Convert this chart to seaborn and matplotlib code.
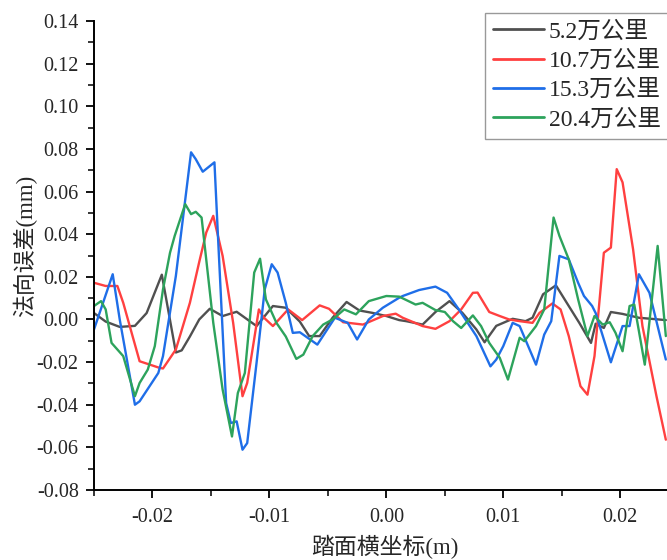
import numpy as np
import pandas as pd
import matplotlib
matplotlib.use("Agg")
import matplotlib.pyplot as plt
from matplotlib.font_manager import FontProperties
from matplotlib.ticker import MultipleLocator
import seaborn as sns

# ---------------- data ----------------
series_names = ["5.2万公里", "10.7万公里", "15.3万公里", "20.4万公里"]

x_52 = [-0.0250, -0.0240, -0.0228, -0.0215, -0.0205, -0.0192, -0.0180, -0.0175,
        -0.0168, -0.0160, -0.0151, -0.0140, -0.0128, -0.0111, -0.0097, -0.0086,
        -0.0074, -0.0066, -0.0057, -0.0046, -0.0034, -0.0023, -0.0012, 0.0000,
        0.0011, 0.0017, 0.0031, 0.0042, 0.0054, 0.0065, 0.0077, 0.0084, 0.0094,
        0.0108, 0.0119, 0.0125, 0.0134, 0.0145, 0.0156, 0.0165, 0.0175, 0.0179,
        0.0186, 0.0192, 0.0202, 0.0216, 0.0239]
y_52 = [0.0030, -0.0010, -0.0035, -0.0030, 0.0030, 0.0210, -0.0155, -0.0145,
        -0.0080, 0.0000, 0.0050, 0.0016, 0.0036, -0.0031, 0.0063, 0.0055,
        -0.0010, -0.0078, -0.0078, 0.0008, 0.0082, 0.0042, 0.0031, 0.0016,
        -0.0003, -0.0008, -0.0024, 0.0035, 0.0086, 0.0031, -0.0047, -0.0107, -0.0030,
        0.0003, -0.0008, 0.0008, 0.0118, 0.0160, 0.0063, -0.0016, -0.0110, -0.0020,
        -0.0040, 0.0035, 0.0026, 0.0008, -0.0003]

x_107 = [-0.0250, -0.0240, -0.0230, -0.0225, -0.0211, -0.0194, -0.0191, -0.0180,
         -0.0168, -0.0160, -0.0154, -0.0148, -0.0140, -0.0131, -0.0123, -0.0119,
         -0.0109, -0.0105, -0.0097, -0.0084, -0.0072, -0.0057, -0.0049, -0.0037,
         -0.0020, -0.0003, 0.0008, 0.0014, 0.0031, 0.0042, 0.0054, 0.0064, 0.0074,
         0.0078, 0.0088, 0.0097, 0.0105, 0.0114, 0.0125, 0.0131, 0.0142, 0.0149,
         0.0156, 0.0166, 0.0172, 0.0178, 0.0186, 0.0192, 0.0197, 0.0202, 0.0211,
         0.0219, 0.0231, 0.0239]
y_107 = [0.0172, 0.0157, 0.0157, 0.0078, -0.0196, -0.0227, -0.0230, -0.0141,
         0.0078, 0.0270, 0.0408, 0.0486, 0.0298, -0.0016, -0.0360, -0.0298,
         0.0047, 0.0010, -0.0031, 0.0047, -0.0003, 0.0066, 0.0050, -0.0013,
         -0.0024, 0.0016, 0.0027, 0.0008, -0.0031, -0.0044, -0.0008, 0.0047, 0.0125,
         0.0126, 0.0035, 0.0016, 0.0000, -0.0008, -0.0016, 0.0031, 0.0075, 0.0047,
         -0.0078, -0.0313, -0.0353, -0.0172, 0.0313, 0.0337, 0.0705, 0.0643, 0.0329,
         -0.0031, -0.0360, -0.0564]

x_153 = [-0.0250, -0.0234, -0.0228, -0.0215, -0.0211, -0.0195, -0.0191, -0.0180,
         -0.0167, -0.0163, -0.0157, -0.0147, -0.0144, -0.0137, -0.0133, -0.0128,
         -0.0123, -0.0119, -0.0111, -0.0104, -0.0098, -0.0093, -0.0086, -0.0080,
         -0.0074, -0.0059, -0.0044, -0.0033, -0.0025, -0.0015, -0.0003, 0.0011,
         0.0014, 0.0028, 0.0042, 0.0052, 0.0062, 0.0077, 0.0089, 0.0094, 0.0100,
         0.0108, 0.0114, 0.0128, 0.0135, 0.0141, 0.0148, 0.0156, 0.0164, 0.0169,
         0.0176, 0.0179, 0.0186, 0.0192, 0.0202, 0.0208, 0.0216, 0.0225, 0.0239]
y_153 = [-0.0047, 0.0212, 0.0000, -0.0400, -0.0384, -0.0251, -0.0172, 0.0204,
         0.0784, 0.0752, 0.0693, 0.0737, 0.0392, -0.0392, -0.0486, -0.0478,
         -0.0611, -0.0580, -0.0204, 0.0141, 0.0259, 0.0220, 0.0078, -0.0063,
         -0.0060, -0.0118, 0.0008, -0.0016, -0.0094, 0.0000, 0.0055, 0.0102,
         0.0110, 0.0138, 0.0154, 0.0125, 0.0047, -0.0078, -0.0220, -0.0188, -0.0125,
         -0.0016, -0.0031, -0.0212, -0.0071, -0.0008, 0.0298, 0.0282, 0.0172, 0.0110,
         0.0063, 0.0030, -0.0094, -0.0201, -0.0031, -0.0031, 0.0212, 0.0125, -0.0188]

x_204 = [-0.0250, -0.0244, -0.0240, -0.0235, -0.0225, -0.0215, -0.0211, -0.0204,
         -0.0198, -0.0191, -0.0185, -0.0181, -0.0172, -0.0167, -0.0163, -0.0158,
         -0.0148, -0.0140, -0.0132, -0.0127, -0.0121, -0.0113, -0.0108, -0.0103,
         -0.0094, -0.0086, -0.0077, -0.0071, -0.0063, -0.0054, -0.0046, -0.0036,
         -0.0026, -0.0015, 0.0000, 0.0011, 0.0025, 0.0031, 0.0042, 0.0050, 0.0057,
         0.0064, 0.0074, 0.0081, 0.0088, 0.0097, 0.0104, 0.0114, 0.0118, 0.0128,
         0.0135, 0.0143, 0.0148, 0.0156, 0.0164, 0.0172, 0.0178, 0.0185, 0.0191,
         0.0196, 0.0202, 0.0208, 0.0212, 0.0221, 0.0232, 0.0239]
y_204 = [0.0063, 0.0086, 0.0047, -0.0110, -0.0172, -0.0360, -0.0298, -0.0235,
         -0.0125, 0.0141, 0.0313, 0.0392, 0.0541, 0.0494, 0.0505, 0.0478,
         -0.0016, -0.0329, -0.0549, -0.0345, -0.0251, 0.0220, 0.0285, 0.0094,
         -0.0016, -0.0080, -0.0185, -0.0165, -0.0078, -0.0024, 0.0000, 0.0047,
         0.0024, 0.0086, 0.0110, 0.0107, 0.0070, 0.0078, 0.0044, 0.0035, -0.0008,
         -0.0040, 0.0019, -0.0031, -0.0110, -0.0180, -0.0282, -0.0086, -0.0102, -0.0031,
         0.0047, 0.0478, 0.0392, 0.0282, 0.0094, -0.0078, 0.0016, -0.0024, -0.0013,
         -0.0063, -0.0149, 0.0063, 0.0070, -0.0212, 0.0345, -0.0078]

x_ticks = [-0.02, -0.01, 0.00, 0.01, 0.02]
x_tick_labels = ["-0.02", "-0.01", "0.00", "0.01", "0.02"]
y_ticks = [-0.08, -0.06, -0.04, -0.02, 0.00, 0.02, 0.04, 0.06, 0.08, 0.10, 0.12, 0.14]
y_tick_labels = ["-0.08", "-0.06", "-0.04", "-0.02", "0.00", "0.02", "0.04",
                 "0.06", "0.08", "0.10", "0.12", "0.14"]

x_label = "踏面横坐标(m)"
y_label = "法向误差(mm)"
colors = ["#505050", "#ff4040", "#1f6ee8", "#2da35c"]

# ---------------- build long table ----------------
xs = [x_52, x_107, x_153, x_204]
ys = [y_52, y_107, y_153, y_204]
frames = []
for name, xv, yv in zip(series_names, xs, ys):
    frames.append(pd.DataFrame({"x": xv, "y": yv, "series": name}))
df = pd.concat(frames, ignore_index=True)

# ---------------- style ----------------
sns.set_style("ticks")
fam = ["Liberation Serif", "Noto Sans CJK SC", "DejaVu Sans"]
plt.rcParams["font.family"] = fam
plt.rcParams["axes.unicode_minus"] = False

fig = plt.figure(figsize=(6.67, 5.6), dpi=100)
ax = fig.add_axes([94 / 667, 1 - 490 / 560, 1 - 94 / 667, (490 - 21) / 560])

sns.lineplot(data=df, x="x", y="y", hue="series", hue_order=series_names,
             palette=colors, estimator=None, sort=True, linewidth=1.7, ax=ax)

ax.set_xlim(-0.0250, 0.0240)
ax.set_ylim(-0.08, 0.14)
ax.set_xticks(x_ticks)
ax.set_xticklabels(x_tick_labels)
ax.set_yticks(y_ticks)
ax.set_yticklabels(y_tick_labels)
ax.xaxis.set_minor_locator(MultipleLocator(0.005))
ax.yaxis.set_minor_locator(MultipleLocator(0.01))

tick_fp = FontProperties(family=fam, size=14.5)
for lab in ax.get_xticklabels() + ax.get_yticklabels():
    lab.set_fontproperties(tick_fp)

ax.tick_params(axis="both", which="major", direction="out", length=6, width=1.3,
               color="black", pad=5)
ax.tick_params(axis="x", which="major", pad=7)
ax.tick_params(axis="both", which="minor", direction="out", length=4, width=1.1,
               color="black")

for side in ["top", "right"]:
    ax.spines[side].set_visible(False)
for side in ["left", "bottom"]:
    ax.spines[side].set_linewidth(1.4)
    ax.spines[side].set_color("black")

lab_fp = FontProperties(family=fam, size=16.5)
ax.set_xlabel(x_label, fontproperties=lab_fp)
ax.set_ylabel(y_label, fontproperties=lab_fp)
ax.xaxis.set_label_coords(0.508, -0.096)
ax.yaxis.set_label_coords(-0.10, 0.52)

leg_fp = FontProperties(family=fam, size=17)
handles, labels = ax.get_legend_handles_labels()
leg = ax.legend(handles, labels, prop=leg_fp, loc="upper left",
                bbox_to_anchor=(485 / 667, 1 - 13 / 560), bbox_transform=fig.transFigure,
                frameon=True, fancybox=False, edgecolor="#999999", framealpha=1,
                handlelength=2.15, handletextpad=0.2, borderpad=0.34,
                labelspacing=0.33, borderaxespad=0)
leg.get_frame().set_linewidth(1.0)
for line in leg.get_lines():
    line.set_linewidth(2.0)

fig.savefig("out.png", dpi=100)
